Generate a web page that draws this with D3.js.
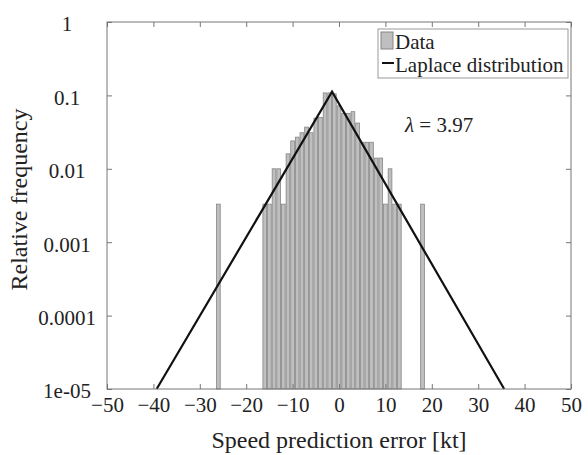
<!DOCTYPE html>
<html>
<head>
<meta charset="utf-8">
<script src="https://cdnjs.cloudflare.com/ajax/libs/d3/7.8.5/d3.min.js"></script>
<style>
  body { margin: 0; background: #fff; }
</style>
</head>
<body>
<div class="chart"></div>
<script>
// histogram bins (centre of 1 kt bin) and relative frequency
var binCenters = [-26, -16, -15, -14, -13, -12, -11, -10, -9, -8, -7, -6, -5, -4, -3, -2, -1, 0,
                  1, 2, 3, 4, 5, 6, 7, 8, 9, 10, 11, 12, 13, 18];
var relFreq = [0.0033, 0.0033, 0.0033, 0.01, 0.01, 0.0033, 0.016, 0.024, 0.027, 0.031, 0.037, 0.031, 0.049, 0.05, 0.108, 0.108, 0.105, 0.072,
               0.057, 0.057, 0.06, 0.042, 0.023, 0.023, 0.023, 0.014, 0.014, 0.0033, 0.01, 0.0033, 0.0033, 0.0033];

// fitted Laplace curve, vertices
var lineX = [-39.3, -1.5, 35.6];
var lineY = [1e-5, 0.112, 1e-5];

var xTicks = [-50, -40, -30, -20, -10, 0, 10, 20, 30, 40, 50];
var yTicks = [1, 0.1, 0.01, 0.001, 0.0001, 1e-5];
var yTickLabels = ['1', '0.1', '0.01', '0.001', '0.0001', '1e-05'];

var serif = '"Liberation Serif", "Times New Roman", Times, "DejaVu Serif", serif';

var margin = { top: 22, right: 17, bottom: 66, left: 107 };
var width = 588 - margin.left - margin.right;
var height = 455 - margin.top - margin.bottom;

var svg = d3.select('.chart')
  .append('svg')
    .attr('width', 588)
    .attr('height', 455)
  .append('g')
    .attr('transform', `translate(${margin.left}, ${margin.top})`);

var xScale = d3.scaleLinear().domain([-50, 50]).range([0, width]);
var yScale = d3.scaleLog().domain([1e-5, 1]).range([height, 0]);

var binW = xScale(1) - xScale(0);

// bars
svg.selectAll('rect.bar')
  .data(binCenters)
  .enter()
  .append('rect')
  .attr('class', 'bar')
  .attr('x', (d) => xScale(d) - binW * 0.4)
  .attr('y', (d, i) => yScale(relFreq[i]))
  .attr('width', binW * 0.8)
  .attr('height', (d, i) => height - yScale(relFreq[i]))
  .attr('fill', '#bfbfbf')
  .attr('stroke', '#858585')
  .attr('stroke-width', 0.8);

// laplace line
var line = d3.line()
  .x((d, i) => xScale(d))
  .y((d, i) => yScale(lineY[i]));

svg.append('path')
  .datum(lineX)
  .attr('d', line)
  .attr('fill', 'none')
  .attr('stroke', '#111')
  .attr('stroke-width', 2.2);

// axes, ticks pointing in
var axisColor = '#777';

var xAxis = d3.axisBottom(xScale)
  .tickValues(xTicks)
  .tickFormat(d3.format('d'))
  .tickSizeInner(-5)
  .tickSizeOuter(0)
  .tickPadding(8);

var gx = svg.append('g')
  .attr('transform', `translate(0, ${height})`)
  .call(xAxis);

var yAxis = d3.axisLeft(yScale)
  .tickValues(yTicks)
  .tickFormat((d, i) => yTickLabels[i])
  .tickSizeInner(-5)
  .tickSizeOuter(0);

var gy = svg.append('g').call(yAxis);
gy.selectAll('text')
  .attr('text-anchor', 'middle')
  .attr('x', -40)
  .attr('dy', '0.42em');

svg.selectAll('.tick text')
  .style('font-family', serif)
  .style('font-size', '21px')
  .style('fill', '#222');

svg.append('g')
  .call(d3.axisTop(xScale).tickValues(xTicks).tickFormat('').tickSizeInner(-5).tickSizeOuter(0));
svg.append('g')
  .attr('transform', `translate(${width}, 0)`)
  .call(d3.axisRight(yScale).tickValues(yTicks).tickFormat('').tickSizeInner(-5).tickSizeOuter(0));

svg.selectAll('.domain').remove();
svg.selectAll('.tick line').attr('stroke', axisColor);

svg.append('rect')
  .attr('width', width)
  .attr('height', height)
  .attr('fill', 'none')
  .attr('stroke', axisColor)
  .attr('stroke-width', 1);

// axis titles
svg.append('text')
  .attr('x', width / 2)
  .attr('y', height + 59)
  .attr('text-anchor', 'middle')
  .style('font-family', serif)
  .style('font-size', '24px')
  .style('fill', '#222')
  .text('Speed prediction error [kt]');

svg.append('text')
  .attr('transform', `translate(${27 - margin.left}, ${height / 2 - 6}) rotate(-90)`)
  .attr('text-anchor', 'middle')
  .style('font-family', serif)
  .style('font-size', '24px')
  .style('fill', '#222')
  .text('Relative frequency');

// legend
var lg = svg.append('g').attr('transform', `translate(${378 - margin.left}, ${29 - margin.top})`);
lg.append('rect')
  .attr('width', 190)
  .attr('height', 49)
  .attr('fill', '#fff')
  .attr('stroke', '#999');
lg.append('rect')
  .attr('x', 3).attr('y', 3)
  .attr('width', 12).attr('height', 17)
  .attr('fill', '#bfbfbf')
  .attr('stroke', '#858585');
lg.append('text')
  .attr('x', 17).attr('y', 20)
  .style('font-family', serif)
  .style('font-size', '21px')
  .style('fill', '#222')
  .text('Data');
lg.append('line')
  .attr('x1', 4).attr('x2', 16)
  .attr('y1', 34).attr('y2', 34)
  .attr('stroke', '#111')
  .attr('stroke-width', 2);
lg.append('text')
  .attr('x', 17).attr('y', 43)
  .style('font-family', serif)
  .style('font-size', '21px')
  .style('fill', '#222')
  .text('Laplace distribution');

// lambda annotation
var lam = svg.append('text')
  .attr('x', 405 - margin.left)
  .attr('y', 132 - margin.top)
  .style('font-family', serif)
  .style('font-size', '21px')
  .style('fill', '#222');
lam.append('tspan').style('font-style', 'italic').text('λ');
lam.append('tspan').text(' = 3.97');
</script>
</body>
</html>
